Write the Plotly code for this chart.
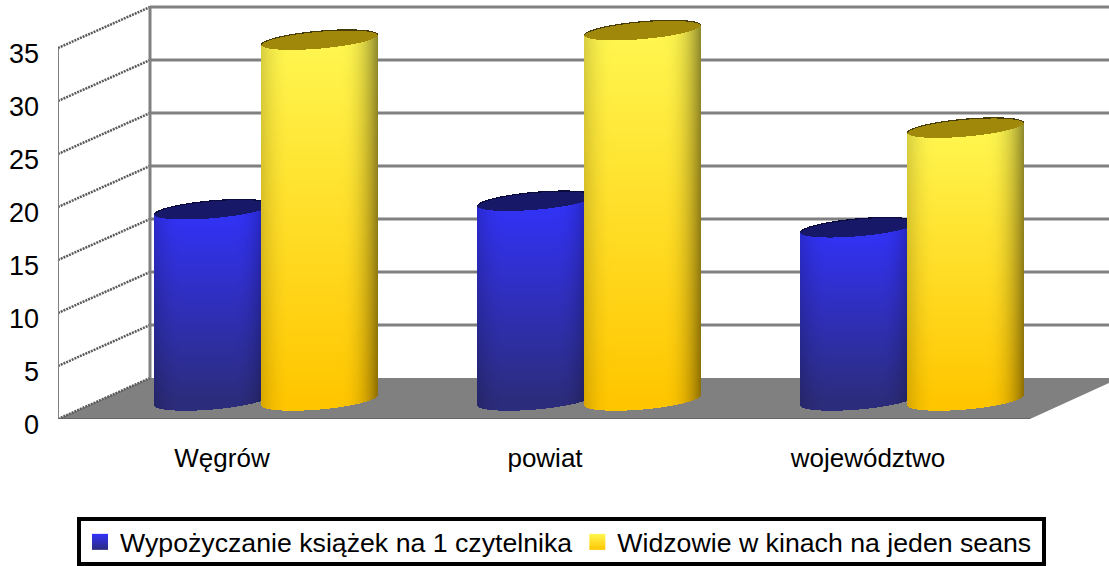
import numpy as np
import plotly.graph_objects as go

categories = ["Węgrów", "powiat", "województwo"]
series_names = ["Wypożyczanie książek na 1 czytelnika", "Widzowie w kinach na jeden seans"]
books_per_reader = [18.0, 18.8, 16.3]
cinema_per_show = [34.0, 34.9, 25.7]
y_ticks = [0, 5, 10, 15, 20, 25, 30, 35]

# pixel scale of the axes (used only to place the pseudo-3D depth)
W, H = 1109, 566
LEFT, FLOOR_FRONT = 58, 419
X0_PX, X_UNIT = 222.0, 323.0      # px of category 0, px per category
Y_UNIT = 10.6                     # px per value unit
DEPTH_X, DEPTH_Y = 92.0, 41.0     # px depth of the wall

def xd(px):
    return (px - X0_PX) / X_UNIT

def yd(py):
    return (FLOOR_FRONT - py) / Y_UNIT

GRID = "#808080"
shapes = []
# legend frame
PW, PH = W - LEFT, FLOOR_FRONT
shapes.append(dict(type="rect", xref="paper", yref="paper", layer="below",
                   x0=(79 - LEFT) / PW, x1=(1044 - LEFT) / PW,
                   y0=(FLOOR_FRONT - 564) / PH, y1=(FLOOR_FRONT - 519) / PH,
                   line=dict(color="black", width=4), fillcolor="white"))
# floor
fx0, fx1 = xd(LEFT), xd(W)
floor = [(LEFT, FLOOR_FRONT), (LEFT + DEPTH_X, FLOOR_FRONT - DEPTH_Y), (W, FLOOR_FRONT - DEPTH_Y),
         (W, FLOOR_FRONT - 36), (1030, FLOOR_FRONT)]
path = "M " + " L ".join(f"{xd(a):.5f},{yd(b):.5f}" for a, b in floor) + " Z"
shapes.append(dict(type="path", path=path, fillcolor=GRID, line=dict(width=0), layer="below",
                   xref="x", yref="y"))
back_x = xd(LEFT + DEPTH_X)
dv = DEPTH_Y / Y_UNIT
for t in y_ticks:
    if t > 0:
        shapes.append(dict(type="line", x0=back_x, x1=fx1, y0=t + dv, y1=t + dv, layer="below",
                           xref="x", yref="y", line=dict(color=GRID, width=3)))
    shapes.append(dict(type="line", x0=fx0, x1=back_x, y0=t, y1=t + dv, layer="below",
                       xref="x", yref="y", line=dict(color="#5a5a5a", width=2.5, dash="2px,1px")))
top_v = y_ticks[-1]
shapes += [
    dict(type="line", x0=back_x, x1=back_x, y0=dv, y1=top_v + dv, layer="below", xref="x", yref="y",
         line=dict(color=GRID, width=3)),
    dict(type="line", x0=fx0, x1=fx0, y0=0, y1=top_v, layer="below", xref="x", yref="y",
         line=dict(color=GRID, width=2)),
    dict(type="line", x0=fx0, x1=xd(1030), y0=0, y1=0, layer="below", xref="x", yref="y",
         line=dict(color="#666666", width=2)),
]

BASE_PY = 399.5
RADIUS = 58.5
TILT = 5.0
B_TOP, B_BASE = 9.0, 9.5

STYLES = [
    dict(top=(50, 50, 250), bottom=(44, 44, 125), face=(24, 24, 105), rim=(10, 10, 60), dx=-53.0),
    dict(top=(255, 246, 80), bottom=(255, 198, 0), face=(160, 136, 10), rim=(70, 60, 10), dx=54.0),
]

def cylinder(value, cat_idx, st):
    cx = X0_PX + cat_idx * X_UNIT + 43.0 + st["dx"]
    top = BASE_PY - value * Y_UNIT
    xs = np.arange(np.floor(cx - RADIUS), np.ceil(cx + RADIUS) + 1)
    ys = np.arange(np.floor(top - 14), np.ceil(BASE_PY + 17))[::-1]   # bottom row first
    px, py = np.meshgrid(xs, ys)
    u = np.clip((px + 0.0 - cx) / RADIUS, -1.2, 1.2)
    inside = np.abs(u) <= 1
    s = np.sqrt(np.clip(1 - u * u, 0, 1))
    centre_t = top - TILT * u
    centre_b = BASE_PY - TILT * u
    face = np.abs(py - centre_t) <= B_TOP * s
    rim = face & (py - centre_t <= -B_TOP * s + 1.2)
    side = (py >= centre_t) & (py <= centre_b + B_BASE * s)
    t = np.clip((py - top) / max(BASE_PY - top, 1), 0, 1)[..., None]
    col = np.array(st["top"]) * (1 - t) + np.array(st["bottom"]) * t
    shade = np.where(u > 0.3, 1 - 0.45 * (np.abs(u - 0.3) / 0.7) ** 2.5, 1.0)
    shade = np.where(u < -0.5, 1 - 0.16 * (np.abs(u + 0.5) / 0.5) ** 2, shade)
    col = col * shade[..., None]
    col = np.where(face[..., None], np.array(st["face"], dtype=float), col)
    col = np.where(rim[..., None], np.array(st["rim"], dtype=float), col)
    alpha = ((side | face) & inside).astype(float)
    rgba = np.dstack([np.round(col).astype(int), alpha])
    return go.Image(z=rgba.tolist(), colormodel="rgba", x0=xd(xs[0]), dx=1 / X_UNIT,
                    y0=yd(ys[0]), dy=1 / Y_UNIT, hoverinfo="skip", xaxis="x", yaxis="y")

fig = go.Figure()
for i in range(len(categories)):
    fig.add_trace(cylinder(books_per_reader[i], i, STYLES[0]))
    fig.add_trace(cylinder(cinema_per_show[i], i, STYLES[1]))

for name, st in zip(series_names, STYLES):
    fig.add_trace(go.Scatter(
        x=[None], y=[None], mode="markers", name=name, showlegend=True, hoverinfo="skip",
        marker=dict(symbol="square", size=17, color="rgb%s" % (st["top"],),
                    gradient=dict(type="vertical", color="rgb%s" % (st["bottom"],)))))

FONT = "Liberation Sans, Arial, sans-serif"
fig.update_layout(
    width=W, height=H, autosize=False,
    margin=dict(l=LEFT, r=0, t=0, b=H - FLOOR_FRONT, pad=0),
    paper_bgcolor="white", plot_bgcolor="white",
    font=dict(family=FONT, size=25, color="black"),
    shapes=shapes,
    xaxis=dict(range=[xd(LEFT), xd(W)], tickmode="array", tickvals=list(range(len(categories))),
               ticktext=categories, showgrid=False, zeroline=False, showline=False, ticks="",
               tickfont=dict(size=26), ticklabelstandoff=21, constrain="range"),
    yaxis=dict(range=[0, FLOOR_FRONT / Y_UNIT], tickmode="array", tickvals=y_ticks, showgrid=False,
               zeroline=False, showline=False, ticks="", tickfont=dict(size=27), scaleanchor=False,
               ticklabelstandoff=18, ticklabelshift=6, constrain="range"),
    legend=dict(orientation="h", xref="container", x=80 / W, xanchor="left",
                yref="container", y=1 - 518 / H, yanchor="top",
                borderwidth=0, bgcolor="rgba(0,0,0,0)",
                font=dict(size=26.7), itemwidth=30),
)
fig.write_html("out.html", config=dict(displayModeBar=False),
               post_script="document.body.style.margin='0';")
